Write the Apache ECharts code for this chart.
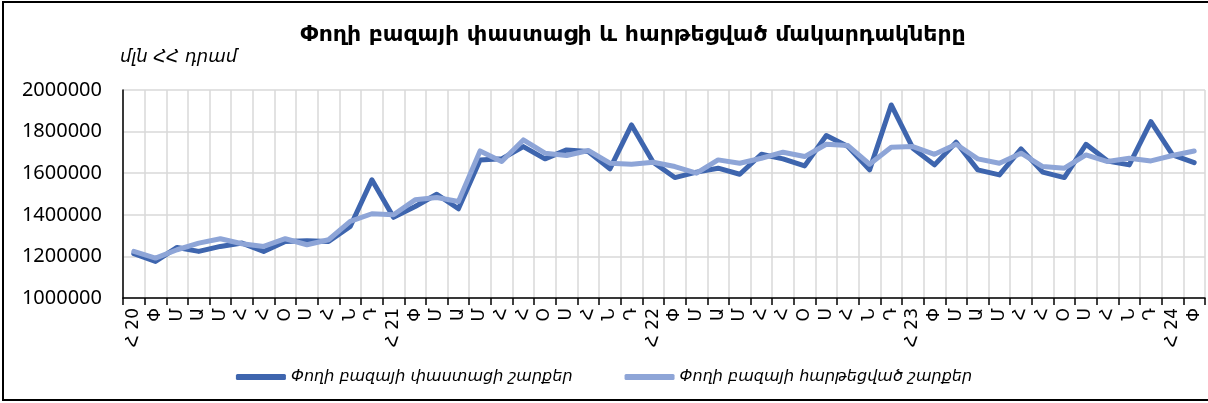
<!DOCTYPE html>
<html>
<head>
<meta charset="utf-8">
<script src="https://cdn.jsdelivr.net/npm/echarts@6/dist/echarts.min.js"></script>
<style>
  html, body { margin: 0; padding: 0; background: #fff; }
  #chart { width: 1208px; height: 403px; }
</style>
</head>
<body>
<div id="chart"></div>
<script>
// ամիսներ՝ 2020 հունվար - 2024 փետրվար
const months = [
  'Հ 20', 'Փ', 'Մ', 'Ա', 'Մ', 'Հ', 'Հ', 'Օ', 'Ս', 'Հ', 'Ն', 'Դ',
  'Հ 21', 'Փ', 'Մ', 'Ա', 'Մ', 'Հ', 'Հ', 'Օ', 'Ս', 'Հ', 'Ն', 'Դ',
  'Հ 22', 'Փ', 'Մ', 'Ա', 'Մ', 'Հ', 'Հ', 'Օ', 'Ս', 'Հ', 'Ն', 'Դ',
  'Հ 23', 'Փ', 'Մ', 'Ա', 'Մ', 'Հ', 'Հ', 'Օ', 'Ս', 'Հ', 'Ն', 'Դ',
  'Հ 24', 'Փ'
];

// փաստացի շարք
const actual = [
  1213000, 1176000, 1243000, 1224000, 1248000, 1264000, 1224000, 1272000, 1275000, 1272000, 1344000, 1568000,
  1388000, 1440000, 1499000, 1429000, 1664000, 1669000, 1728000, 1669000, 1712000, 1704000, 1621000, 1832000,
  1653000, 1579000, 1605000, 1624000, 1595000, 1691000, 1669000, 1635000, 1781000, 1728000, 1616000, 1928000,
  1720000, 1640000, 1749000, 1616000, 1592000, 1717000, 1605000, 1579000, 1739000, 1659000, 1640000, 1848000,
  1688000, 1651000
];

// հարթեցված շարք
const smoothed = [
  1224000, 1192000, 1232000, 1264000, 1285000, 1261000, 1248000, 1285000, 1256000, 1280000, 1368000, 1405000,
  1400000, 1472000, 1483000, 1464000, 1707000, 1656000, 1760000, 1696000, 1685000, 1709000, 1648000, 1643000,
  1653000, 1632000, 1600000, 1664000, 1648000, 1672000, 1701000, 1680000, 1739000, 1733000, 1643000, 1725000,
  1728000, 1691000, 1739000, 1669000, 1648000, 1696000, 1632000, 1624000, 1688000, 1656000, 1672000, 1659000,
  1685000, 1707000
];

const names = ['Փողի բազայի փաստացի շարքեր', 'Փողի բազայի հարթեցված շարքեր'];

const armFont = '"DejaVu Sans", "Noto Sans", sans-serif';

let chart = echarts.init(document.getElementById('chart'));

let option = {
  animation: false,
  backgroundColor: '#fff',
  title: {
    text: 'Փողի բազայի փաստացի և հարթեցված մակարդակները',
    left: 628,
    textAlign: 'center',
    top: 19,
    textStyle: { fontFamily: armFont, fontWeight: 'bold', fontSize: 22, color: '#000' }
  },
  graphic: [
    {
      type: 'rect',
      shape: { x: 3, y: 2, width: 1230, height: 398 },
      style: { fill: 'none', stroke: '#000', lineWidth: 2 },
      silent: true
    },
    {
      type: 'text',
      left: 120,
      top: 48,
      style: { text: 'մլն ՀՀ դրամ', font: 'italic 18px ' + armFont, fill: '#000' }
    }
  ],
  legend: {
    data: names,
    left: 'center',
    top: 364,
    icon: 'roundRect',
    itemWidth: 50,
    itemHeight: 6,
    itemGap: 52,
    textStyle: { fontFamily: armFont, fontStyle: 'italic', fontSize: 16, color: '#000' }
  },
  grid: { left: 123, right: 3, top: 90, bottom: 105 },
  xAxis: {
    type: 'category',
    data: months,
    boundaryGap: true,
    axisLine: { lineStyle: { color: '#000', width: 1.5 } },
    axisTick: { show: true, length: 7, lineStyle: { color: '#000', width: 1.5 } },
    axisLabel: {
      interval: 0,
      rotate: 90,
      margin: 10,
      fontFamily: armFont,
      fontSize: 17,
      color: '#000'
    },
    splitLine: { show: true, lineStyle: { color: '#d9d9d9', width: 1.5 } }
  },
  yAxis: {
    type: 'value',
    min: 1000000,
    max: 2000000,
    interval: 200000,
    axisLine: { show: true, lineStyle: { color: '#000', width: 1.5 } },
    axisTick: { show: false },
    axisLabel: {
      margin: 21,
      fontFamily: '"Noto Sans", sans-serif',
      fontSize: 20,
      color: '#000',
      formatter: function (v) { return String(v); }
    },
    splitLine: { lineStyle: { color: '#d9d9d9', width: 1.5 } }
  },
  series: [
    {
      name: names[0],
      type: 'line',
      data: actual,
      symbol: 'none',
      lineStyle: { color: '#3e65ae', width: 5, cap: 'round', join: 'round' },
      itemStyle: { color: '#3e65ae' }
    },
    {
      name: names[1],
      type: 'line',
      data: smoothed,
      symbol: 'none',
      lineStyle: { color: '#8ea5d7', width: 5, cap: 'round', join: 'round' },
      itemStyle: { color: '#8ea5d7' }
    }
  ]
};

chart.setOption(option);
</script>
</body>
</html>
